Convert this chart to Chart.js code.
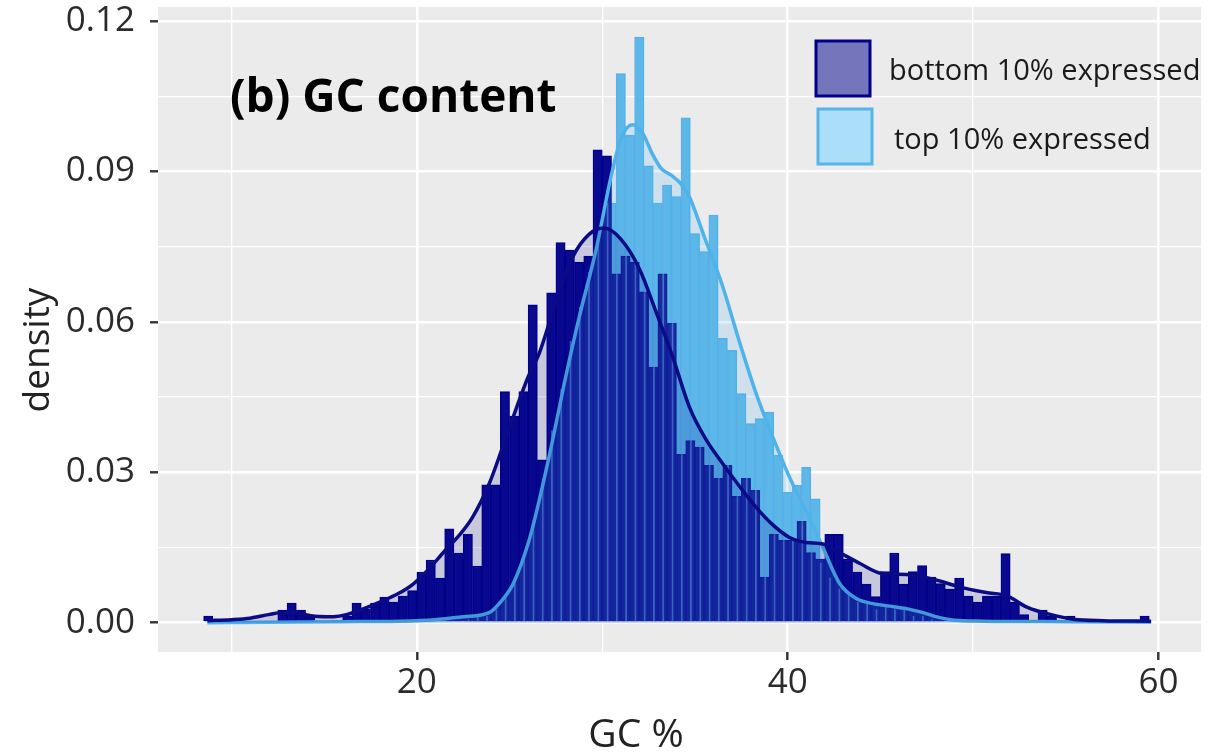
<!DOCTYPE html>
<html>
<head>
<meta charset="utf-8">
<script src="https://cdn.jsdelivr.net/npm/chart.js@4.4.1/dist/chart.umd.min.js"></script>
<style>
  html, body { margin: 0; padding: 0; background: #ffffff; }
  #wrap { width: 1224px; height: 754px; }
</style>
</head>
<body>
<div id="wrap"><canvas id="c" width="1224" height="754"></canvas></div>
<script>
// GC content (%) histograms on a density scale, bin width 0.5
const seriesLabels = ['bottom 10% expressed', 'top 10% expressed'];
const titleText = '(b) GC content';
const xTitle = 'GC %';
const yTitle = 'density';

// bottom 10% expressed: bin centres and densities
const bottomBins = [8.75, 12.75, 13.25, 13.75, 14.25, 16.25, 16.75, 17.25, 17.75, 18.25, 18.75, 19.25, 19.75,
  20.25, 20.75, 21.25, 21.75, 22.25, 22.75, 23.25, 23.75, 24.25, 24.75, 25.25, 25.75, 26.25, 26.75,
  27.25, 27.75, 28.25, 28.75, 29.25, 29.75, 30.25, 30.75, 31.25, 31.75, 32.25, 32.75, 33.25, 33.75,
  34.25, 34.75, 35.25, 35.75, 36.25, 36.75, 37.25, 37.75, 38.25, 38.75, 39.25, 39.75, 40.25, 40.75,
  41.25, 41.75, 42.25, 42.75, 43.25, 43.75, 44.25, 44.75, 45.25, 45.75, 46.25, 46.75, 47.25, 47.75,
  48.25, 48.75, 49.25, 49.75, 50.25, 50.75, 51.25, 51.75, 52.25, 52.75, 53.75, 54.25, 55.25, 59.25];
const bottomDensity = [0.0013, 0.0025, 0.0039, 0.0025, 0.0013, 0.0013, 0.0039, 0.0027, 0.0039, 0.0051, 0.0041, 0.0053, 0.0064,
  0.0101, 0.0125, 0.0089, 0.0187, 0.0139, 0.0176, 0.0113, 0.0275, 0.0275, 0.0461, 0.0412, 0.0461, 0.0634, 0.0325,
  0.0658, 0.0758, 0.0743, 0.0719, 0.0731, 0.0943, 0.0931, 0.0696, 0.0731, 0.0719, 0.0660, 0.0510, 0.0696, 0.0597,
  0.0336, 0.0363, 0.0350, 0.0314, 0.0288, 0.0314, 0.0252, 0.0288, 0.0264, 0.0091, 0.0176, 0.0164, 0.0164, 0.0202,
  0.0140, 0.0127, 0.0176, 0.0176, 0.0127, 0.0101, 0.0077, 0.0052, 0.0102, 0.0139, 0.0077, 0.0102, 0.0114, 0.0091,
  0.0078, 0.0067, 0.0089, 0.0053, 0.0041, 0.0053, 0.0053, 0.0138, 0.0041, 0.0016, 0.0025, 0.0013, 0.0013, 0.0013];

// top 10% expressed: bin centres and densities
const topBins = [23.0, 23.5, 24.0, 24.5, 25.0, 25.5, 26.0, 26.5, 27.0, 27.5, 28.0, 28.5, 29.0, 29.5, 30.0,
  30.5, 31.0, 31.5, 32.0, 32.5, 33.0, 33.5, 34.0, 34.5, 35.0, 35.5, 36.0, 36.5, 37.0, 37.5, 38.0,
  38.5, 39.0, 39.5, 40.0, 40.5, 41.0, 41.5, 42.0, 42.5, 43.0, 43.5, 44.0, 44.5, 45.0, 45.5, 46.0,
  46.5, 47.0, 47.5, 48.0];
const topDensity = [0.0007, 0.0014, 0.0014, 0.0027, 0.0055, 0.0082, 0.0137, 0.0205, 0.0287, 0.0384, 0.0466, 0.0562, 0.0630, 0.0700, 0.0767,
  0.0837, 0.1095, 0.0972, 0.1168, 0.0911, 0.0837, 0.0873, 0.0850, 0.1007, 0.0776, 0.0740, 0.0813, 0.0567, 0.0543, 0.0457, 0.0397,
  0.0407, 0.0420, 0.0334, 0.0260, 0.0274, 0.0310, 0.0247, 0.0120, 0.0090, 0.0068, 0.0055, 0.0041, 0.0041, 0.0027, 0.0034, 0.0027,
  0.0027, 0.0014, 0.0014, 0.0007];

// kernel density estimates
const bottomCurveX = [8.7, 10.0, 11.0, 12.0, 12.8, 13.5, 14.5, 15.5, 16.2, 17.0, 18.0, 19.0, 19.8, 20.6, 21.5, 22.3, 23.0,
  23.9, 25.0, 26.0, 26.6, 27.5, 28.4, 29.3, 30.1, 31.0, 32.0, 32.9, 33.8, 34.7, 35.6, 36.5, 37.4, 38.3, 39.2,
  40.1, 41.0, 41.9, 42.8, 43.9, 45.1, 46.4, 47.8, 49.3, 50.7, 51.8, 52.9, 54.2, 55.4, 57.0, 59.6];
const bottomCurveY = [0.0004, 0.0006, 0.0009, 0.0016, 0.0021, 0.0020, 0.0013, 0.0012, 0.0016, 0.0026, 0.0041, 0.0058, 0.0077, 0.0105, 0.0143, 0.0175, 0.0210,
  0.0277, 0.0390, 0.0490, 0.0537, 0.0640, 0.0729, 0.0775, 0.0787, 0.0765, 0.0706, 0.0620, 0.0530, 0.0430, 0.0365, 0.0317, 0.0272, 0.0230, 0.0195,
  0.0170, 0.0160, 0.0157, 0.0140, 0.0118, 0.0098, 0.0096, 0.0087, 0.0071, 0.0060, 0.0054, 0.0031, 0.0016, 0.0007, 0.0004, 0.0003];
const topCurveX = [8.7, 12.0, 16.0, 19.0, 21.0, 22.5, 23.9, 24.6, 25.2, 26.05, 26.6, 27.3, 27.95, 28.76, 29.66, 30.47, 31.0,
  31.64, 32.2, 32.7, 33.2, 33.7, 34.2, 34.7, 35.5, 36.5, 37.4, 38.3, 39.2, 40.1, 41.0, 41.9, 42.8, 43.7,
  44.6, 45.5, 46.4, 47.3, 48.2, 49.0, 50.5, 55.0, 59.6];
const topCurveY = [0.0000, 0.0001, 0.0002, 0.0003, 0.0006, 0.0012, 0.0020, 0.0045, 0.0078, 0.0164, 0.0244, 0.0360, 0.0477, 0.0610, 0.0743, 0.0889, 0.0965,
  0.0993, 0.0975, 0.0935, 0.0905, 0.0893, 0.0877, 0.0849, 0.0770, 0.0670, 0.0560, 0.0457, 0.0370, 0.0290, 0.0222, 0.0150, 0.0078, 0.0048,
  0.0038, 0.0033, 0.0028, 0.0020, 0.0010, 0.0005, 0.0003, 0.0002, 0.0001];

// axis ticks
const xGridValues = [10, 20, 30, 40, 50, 60];
const xTickLabels = [20, 40, 60];
const yGridValues = [0, 0.015, 0.03, 0.045, 0.06, 0.075, 0.09, 0.105, 0.12];
const yTickLabels = [0, 0.03, 0.06, 0.09, 0.12];

const X_MIN = 6.04, X_MAX = 62.29;
const Y_MIN = -0.00585, Y_MAX = 0.1228;

const NAVY = '#00008B';
const SKY = '#56B4E9';
const FONT = "'Open Sans', 'DejaVu Sans', sans-serif";

Chart.defaults.font.family = FONT;

const isLabelled = (list, v) => list.some(t => Math.abs(t - v) < 1e-9);
const tickIsMajor = (list, c) => !!(c && c.tick && isLabelled(list, c.tick.value));

const panelBackground = {
  id: 'panelBackground',
  beforeDraw(chart) {
    const { ctx, chartArea: a } = chart;
    ctx.save();
    ctx.fillStyle = '#EBEBEB';
    ctx.fillRect(a.left, a.top, a.right - a.left, a.bottom - a.top);
    ctx.restore();
  }
};

const annotations = {
  id: 'annotations',
  afterDraw(chart) {
    const { ctx } = chart;
    ctx.save();
    // panel title
    ctx.fillStyle = '#000000';
    ctx.font = `bold 46px ${FONT}`;
    ctx.textBaseline = 'alphabetic';
    ctx.textAlign = 'left';
    ctx.fillText(titleText, 230, 112);

    // legend keys
    ctx.lineJoin = 'miter';
    ctx.fillStyle = 'rgba(0, 0, 139, 0.5)';
    ctx.fillRect(816, 41, 54, 55);
    ctx.strokeStyle = NAVY;
    ctx.lineWidth = 3;
    ctx.strokeRect(816, 41, 54, 55);

    ctx.fillStyle = '#ABDFF9';
    ctx.fillRect(818, 109, 54, 55);
    ctx.strokeStyle = SKY;
    ctx.strokeRect(818, 109, 54, 55);

    ctx.fillStyle = '#1a1a1a';
    ctx.font = `29px ${FONT}`;
    ctx.textBaseline = 'middle';
    ctx.fillText(seriesLabels[0], 889, 72);
    ctx.fillText(seriesLabels[1], 894, 141);

    // axis titles
    ctx.fillStyle = '#222222';
    ctx.textAlign = 'center';
    ctx.font = `39px ${FONT}`;
    ctx.fillText(xTitle, 636, 736);
    ctx.translate(38, 350);
    ctx.rotate(-Math.PI / 2);
    ctx.font = `37px ${FONT}`;
    ctx.fillText(yTitle, 0, 0);
    ctx.restore();
  }
};

const barStyle = {
  barPercentage: 1.0,
  categoryPercentage: 1.0,
  grouped: false,
  borderWidth: 1.5
};

const linearX = (extra) => Object.assign({
  type: 'linear',
  min: X_MIN,
  max: X_MAX,
  offset: false,
  afterBuildTicks(scale) { scale.ticks = xGridValues.map(v => ({ value: v })); }
}, extra);

const topBarData = topBins.map((x, i) => ({ x, y: topDensity[i] }));

new Chart(document.getElementById('c'), {
  data: {
    datasets: [
      {
        type: 'line',
        label: seriesLabels[0] + ' density',
        data: bottomCurveX.map((x, i) => ({ x, y: bottomCurveY[i] })),
        borderColor: '#0B0B86',
        borderWidth: 3.5,
        pointRadius: 0,
        fill: 'origin',
        backgroundColor: 'rgba(0, 0, 139, 0.15)',
        cubicInterpolationMode: 'monotone',
        xAxisID: 'x'
      },
      {
        type: 'line',
        label: seriesLabels[1] + ' density',
        data: topCurveX.map((x, i) => ({ x, y: topCurveY[i] })),
        borderColor: '#4FB3EA',
        borderWidth: 3.5,
        pointRadius: 0,
        fill: 'origin',
        backgroundColor: 'rgba(86, 180, 233, 0.2)',
        cubicInterpolationMode: 'monotone',
        xAxisID: 'x'
      },
      // outline of the top-10% bars, seen through the bottom-10% bars
      Object.assign({
        type: 'bar',
        label: seriesLabels[1] + ' outline',
        data: topBarData,
        backgroundColor: 'rgba(0,0,0,0)',
        borderColor: 'rgba(110, 175, 235, 0.55)',
        xAxisID: 'x2'
      }, barStyle, { borderWidth: { left: 1.2, right: 0, top: 0, bottom: 0 } }),
      Object.assign({
        type: 'bar',
        label: seriesLabels[0],
        data: bottomBins.map((x, i) => ({ x, y: bottomDensity[i] })),
        backgroundColor: '#0A0A90',
        borderColor: NAVY,
        xAxisID: 'x'
      }, barStyle),
      Object.assign({
        type: 'bar',
        label: seriesLabels[1],
        data: topBarData,
        backgroundColor: '#5DB8E8',
        borderColor: '#4FB1E7',
        xAxisID: 'x2'
      }, barStyle)
    ]
  },
  options: {
    responsive: false,
    devicePixelRatio: 1,
    animation: false,
    events: [],
    layout: { padding: { top: 7, right: 23, left: 0, bottom: 0 } },
    plugins: {
      legend: { display: false },
      tooltip: { enabled: false },
      title: { display: false }
    },
    scales: {
      x: linearX({
        position: 'bottom',
        afterFit(scale) {
          scale.height = 102;
          scale.paddingLeft = 0; scale.paddingRight = 0;
        },
        border: { display: false },
        grid: {
          offset: false,
          color: '#FFFFFF',
          lineWidth: c => tickIsMajor(xTickLabels, c) ? 2.6 : 1.3,
          drawTicks: true,
          tickLength: 8,
          tickWidth: 2.4,
          tickColor: c => tickIsMajor(xTickLabels, c) ? '#333333' : 'rgba(0,0,0,0)'
        },
        ticks: {
          autoSkip: false,
          maxRotation: 0,
          padding: 2,
          color: '#2b2b2b',
          font: { size: 35 },
          callback: v => isLabelled(xTickLabels, v) ? String(v) : ''
        },
        title: { display: false }
      }),
      x2: linearX({ display: false, grid: { offset: false } }),
      y: {
        type: 'linear',
        min: Y_MIN,
        max: Y_MAX,
        afterBuildTicks(scale) { scale.ticks = yGridValues.map(v => ({ value: v })); },
        afterFit(scale) {
          scale.width = 158;
          scale.paddingTop = 0; scale.paddingBottom = 0;
        },
        border: { display: false },
        grid: {
          color: '#FFFFFF',
          lineWidth: c => tickIsMajor(yTickLabels, c) ? 2.6 : 1.3,
          drawTicks: true,
          tickLength: 8,
          tickWidth: 2.4,
          tickColor: c => tickIsMajor(yTickLabels, c) ? '#333333' : 'rgba(0,0,0,0)'
        },
        ticks: {
          autoSkip: false,
          padding: 15,
          color: '#2b2b2b',
          font: { size: 35 },
          callback: v => isLabelled(yTickLabels, v) ? v.toFixed(2) : ''
        },
        title: { display: false }
      }
    }
  },
  plugins: [panelBackground, annotations]
});
</script>
</body>
</html>
